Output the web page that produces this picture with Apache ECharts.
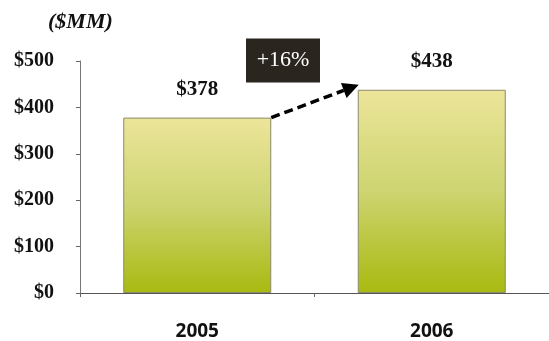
<!DOCTYPE html>
<html><head><meta charset="utf-8">
<script src="https://cdn.jsdelivr.net/npm/echarts@6/dist/echarts.min.js"></script>
<style>html,body{margin:0;padding:0;background:#fff}#c{width:549px;height:341px}</style>
</head><body><div id="c"></div>
<script>
const categories = ['2005', '2006'];
const revenue = [378, 438];
const valueLabels = ['$378', '$438'];
const yTicks = ['$0', '$100', '$200', '$300', '$400', '$500'];
const unitLabel = '($MM)';
const growthLabel = '+16%';

const chart = echarts.init(document.getElementById('c'));
const serif = '"Liberation Serif", "DejaVu Serif", serif';
const unitText = {
  type: 'text', left: 48, top: 11,
  style: { text: unitLabel, font: 'italic bold 22px ' + serif, fill: '#111' }
};
chart.setOption({
  animation: false,
  backgroundColor: '#fff',
  grid: { left: 80, top: 61, width: 474, height: 232, containLabel: false },
  xAxis: {
    type: 'category', data: categories, boundaryGap: true,
    axisLine: { lineStyle: { color: '#555', width: 1 } },
    axisTick: { show: true, length: 4, inside: false, lineStyle: { color: '#666' } },
    axisLabel: { margin: 29, color: '#111', fontSize: 19, fontWeight: 'bold',
      fontFamily: '"Open Sans", "DejaVu Sans", sans-serif' }
  },
  yAxis: {
    type: 'value', min: 0, max: 500, interval: 100,
    splitLine: { show: false },
    axisLine: { show: true, lineStyle: { color: '#777', width: 1 } },
    axisTick: { show: true, length: 4, lineStyle: { color: '#666' } },
    axisLabel: { margin: 26, color: '#111', fontSize: 20, fontWeight: 'bold', fontFamily: serif,
      formatter: (v) => yTicks[Math.round(v / 100)] }
  },
  series: [{
    type: 'bar', data: revenue, barWidth: 148,
    itemStyle: {
      borderColor: '#8a8a6a', borderWidth: 1,
      color: new echarts.graphic.LinearGradient(0, 0, 0, 1, [
        { offset: 0, color: '#ece59a' },
        { offset: 0.5, color: '#cdd470' },
        { offset: 1, color: '#a8ba10' }
      ])
    },
    label: { show: true, position: 'top', distance: 18, color: '#111', fontSize: 21,
      fontWeight: 'bold', fontFamily: serif,
      formatter: (p) => valueLabels[p.dataIndex] }
  }],
  graphic: [unitText]
});

// Growth annotation: arrow from top-right corner of bar 1 to bar 2
const p0 = chart.convertToPixel({ seriesIndex: 0 }, [0, revenue[0]]);
const p1 = chart.convertToPixel({ seriesIndex: 0 }, [1, revenue[1]]);
const half = 74;
const sx = p0[0] + half, sy = p0[1];
const ex = p1[0] - half + 1, ey = p1[1] - 5;
const ang = Math.atan2(ey - sy, ex - sx);
const ah = 16, aw = 8;
const bx = ex - ah * Math.cos(ang), by = ey - ah * Math.sin(ang);
const nx = -Math.sin(ang), ny = Math.cos(ang);
const boxCx = (sx + ex) / 2 - 32, boxCy = p0[1] - 57;
chart.setOption({
  graphic: [unitText, {
    type: 'line', shape: { x1: sx, y1: sy, x2: bx, y2: by },
    style: { stroke: '#000', lineWidth: 3.5, lineDash: [9, 5] }
  }, {
    type: 'polygon',
    shape: { points: [[ex, ey], [bx + nx * aw, by + ny * aw], [bx - nx * aw, by - ny * aw]] },
    style: { fill: '#000' }
  }, {
    type: 'rect', shape: { x: boxCx - 37, y: boxCy - 22, width: 74, height: 44 },
    style: { fill: '#2a251f' }
  }, {
    type: 'text', x: boxCx, y: boxCy,
    style: { text: growthLabel, font: '22px ' + serif, fill: '#fff', align: 'center', verticalAlign: 'middle' }
  }]
});
</script></body></html>
